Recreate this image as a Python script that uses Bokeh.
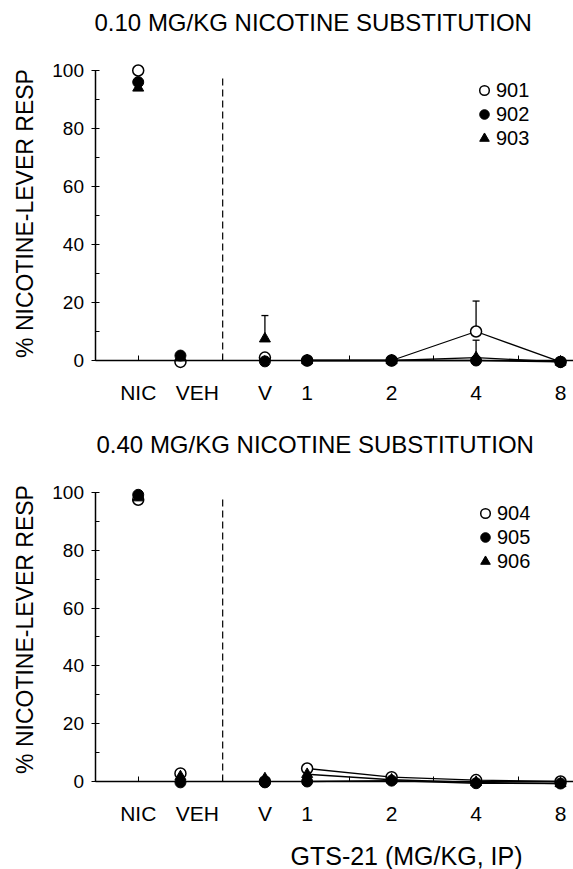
import math
from bokeh.plotting import figure
from bokeh.layouts import column
from bokeh.models import FixedTicker, Legend, LegendItem, Label, Range1d
from bokeh.embed import file_html
from bokeh.resources import INLINE

FONT = "Liberation Sans"

# ---- x layout (ordinal positions on the chart) ----
label_pos = [1, 2.4, 4, 5, 7, 9, 11]
tick_labels = ["NIC", "VEH", "V", "1", "2", "4", "8"]
minor_pos = [1, 2, 3, 4, 5, 6, 7, 8, 9, 10, 11]
divider_x = [3]
divider_top = [98]
ctrl_x = [1, 2]          # NIC, VEH training controls
veh_x = [4]              # GTS-21 vehicle
dose_x = [5, 7, 9, 11]   # GTS-21 1, 2, 4, 8 mg/kg

y_ticks = [0, 20, 40, 60, 80, 100]
y_minor = [10, 30, 50, 70, 90]

# ---- top panel: 0.10 mg/kg nicotine ----
top_title = "0.10 MG/KG NICOTINE SUBSTITUTION"
top_ids = ["901", "902", "903"]
top_ctrl = [[100, -0.5], [96, 1.7], [94, 1.0]]
top_veh = [1.0, -0.3, 7.5]
top_dose = [[0, 0, 10, -0.5], [0, 0, 0, -0.5], [0, 0, 1, -0.5]]
top_err_x = [4, 9, 9]
top_err_mean = [7.5, 1, 10]
top_err_upper = [15.5, 7, 20.5]

# ---- bottom panel: 0.40 mg/kg nicotine ----
bot_title = "0.40 MG/KG NICOTINE SUBSTITUTION"
bot_ids = ["904", "905", "906"]
bot_ctrl = [[97.5, 2.8], [99.2, -0.3], [98.2, 1.7]]
bot_veh = [0.0, -0.3, 1.0]
bot_dose = [[4.5, 1.5, 0.5, 0.0], [0.0, 0.3, -0.6, -0.7], [2.5, 0.6, -0.3, -0.7]]

y_label = "% NICOTINE-LEVER RESP"
x_label = "GTS-21 (MG/KG, IP)"

marker_styles = [
    dict(marker="circle", fill_color="white", line_color="black", line_width=1.5),
    dict(marker="circle", fill_color="black", line_color="black", line_width=1.0),
    dict(marker="triangle", fill_color="black", line_color="black", line_width=1.0),
]


def add_text(p, text, x, y, size, angle=0.0, align="left", baseline="middle"):
    p.add_layout(Label(x=x, y=y, x_units="screen", y_units="screen", text=text,
                       angle=angle, text_font=FONT, text_font_size=size,
                       text_color="black", text_align=align, text_baseline=baseline))


def make_panel(title, ids, ctrl, veh, dose, height, y_range, legend_loc,
               title_xy, ylab_xy, label_standoff, err=None, xlabel_xy=None):
    p = figure(width=573, height=height, output_backend="svg", toolbar_location=None,
               x_range=Range1d(-2.261, 11.307), y_range=Range1d(*y_range),
               min_border=0)
    p.grid.visible = False
    p.outline_line_color = None
    p.background_fill_color = "white"
    p.border_fill_color = "white"

    xa = p.xaxis[0]
    xa.fixed_location = 0
    xa.bounds = (0, 11.307)
    xa.ticker = FixedTicker(ticks=label_pos, minor_ticks=minor_pos)
    xa.major_label_overrides = {t: l for t, l in zip(label_pos, tick_labels)}
    xa.major_tick_in = 0
    xa.major_tick_out = 0
    xa.minor_tick_in = 5
    xa.minor_tick_out = 0
    xa.major_label_standoff = label_standoff
    xa.major_label_text_font = FONT
    xa.major_label_text_font_size = "21px"
    xa.major_label_text_color = "black"
    xa.axis_line_width = 1.5
    xa.axis_line_color = "black"

    ya = p.yaxis[0]
    ya.fixed_location = 0
    ya.ticker = FixedTicker(ticks=y_ticks, minor_ticks=y_minor)
    ya.bounds = (0, 100)
    ya.major_tick_in = 4
    ya.major_tick_out = 4
    ya.minor_tick_in = 4
    ya.minor_tick_out = 0
    ya.major_label_standoff = 8
    ya.major_label_text_font = FONT
    ya.major_label_text_font_size = "19px"
    ya.major_label_text_color = "black"
    ya.axis_line_width = 1.5

    # divider between controls and GTS-21 tests
    p.segment(x0=divider_x, y0=[0], x1=divider_x, y1=divider_top,
              line_color="black", line_width=1.2, line_dash="7 4")

    # dose-effect lines
    for k in range(len(ids)):
        p.line(dose_x, dose[k], line_color="black", line_width=1.3)

    if err is not None:
        ex, em, eu = err
        p.segment(x0=ex, y0=em, x1=ex, y1=eu, line_color="black", line_width=1.3)
        p.scatter(ex, eu, marker="dash", size=7, line_color="black", line_width=1.3)

    items = []
    for k in range(len(ids)):
        xs = ctrl_x + veh_x + dose_x
        ys = ctrl[k] + [veh[k]] + dose[k]
        r = p.scatter(xs, ys, size=11, **marker_styles[k])
        items.append(LegendItem(label=ids[k], renderers=[r]))

    leg = Legend(items=items, location=legend_loc, glyph_width=24, glyph_height=24,
                 spacing=0, padding=0, margin=0, label_standoff=-2,
                 label_text_font=FONT, label_text_font_size="20px",
                 label_text_color="black",
                 label_height=24, border_line_alpha=0, background_fill_alpha=0)
    p.add_layout(leg)

    add_text(p, title, title_xy[0], title_xy[1], "24px")
    add_text(p, y_label, ylab_xy[0], ylab_xy[1], "23px", angle=math.pi / 2,
             align="center")
    if xlabel_xy is not None:
        add_text(p, x_label, xlabel_xy[0], xlabel_xy[1], "25px")
    return p


top = make_panel(top_title, top_ids, top_ctrl, top_veh, top_dose, 420,
                 (-20.69, 124.14), (472, 270), (94, 398), (24, 207), 20,
                 err=(top_err_x, top_err_mean, top_err_upper))
bot = make_panel(bot_title, bot_ids, bot_ctrl, bot_veh, bot_dose, 449,
                 (-30.45, 124.91), (473, 296), (96, 425), (24, 240), 21,
                 xlabel_xy=(290, 14))

layout = column(top, bot, spacing=0)
open("out.html", "w").write(file_html(layout, INLINE))
